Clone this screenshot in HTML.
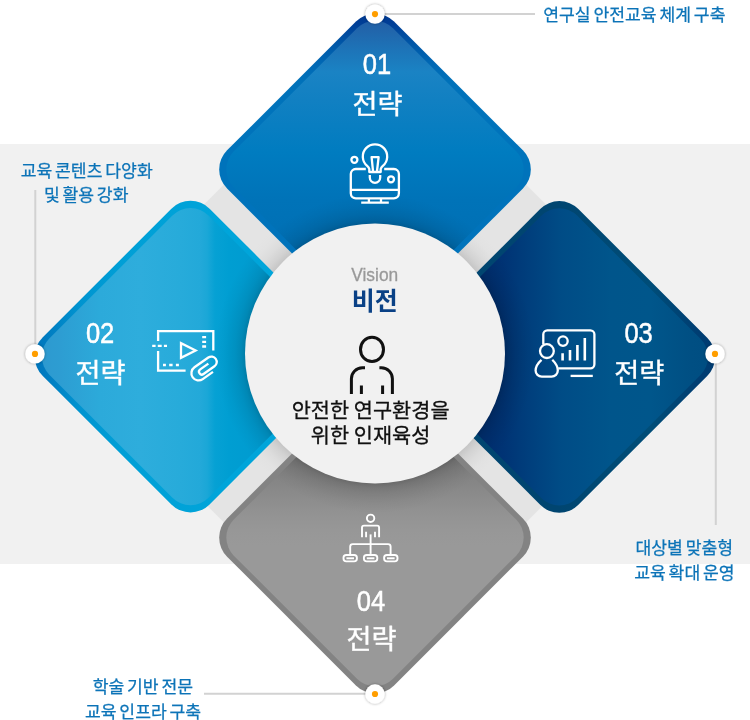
<!DOCTYPE html>
<html lang="ko">
<head>
<meta charset="utf-8">
<title>비전 및 전략</title>
<style>
html,body{margin:0;padding:0;background:#fff;}
body{width:750px;height:720px;overflow:hidden;font-family:'Liberation Sans','Noto Sans CJK KR',sans-serif;}
svg{display:block;}
</style>
</head>
<body>
<svg width="750" height="720" viewBox="0 0 750 720" style="will-change:transform">
<defs>
<linearGradient id="gTb" gradientUnits="userSpaceOnUse" x1="0" y1="10" x2="0" y2="240"><stop offset="0.0000" stop-color="#003790"/><stop offset="0.0565" stop-color="#003e96"/><stop offset="0.1522" stop-color="#0058a8"/><stop offset="0.2391" stop-color="#0069b5"/><stop offset="0.3087" stop-color="#0071b9"/><stop offset="0.4348" stop-color="#0073bb"/><stop offset="1.0000" stop-color="#0073bb"/></linearGradient>
<linearGradient id="gTf" gradientUnits="userSpaceOnUse" x1="0" y1="20" x2="0" y2="240"><stop offset="0.0000" stop-color="#225fa7"/><stop offset="0.0455" stop-color="#2165ab"/><stop offset="0.1364" stop-color="#1d74b8"/><stop offset="0.2364" stop-color="#1a83c4"/><stop offset="0.3636" stop-color="#1180c2"/><stop offset="0.6000" stop-color="#007cc0"/><stop offset="0.8182" stop-color="#0073b8"/><stop offset="1.0000" stop-color="#0070b5"/></linearGradient>
<linearGradient id="gLb" gradientUnits="userSpaceOnUse" x1="20" y1="0" x2="260" y2="0"><stop offset="0.0000" stop-color="#006fb9"/><stop offset="0.1042" stop-color="#007bc0"/><stop offset="0.2500" stop-color="#0094d0"/><stop offset="0.4167" stop-color="#009fd6"/><stop offset="0.8750" stop-color="#00a5da"/><stop offset="1.0000" stop-color="#00a5da"/></linearGradient>
<linearGradient id="gLf" gradientUnits="userSpaceOnUse" x1="30" y1="0" x2="260" y2="0"><stop offset="0.0000" stop-color="#2d97ce"/><stop offset="0.1304" stop-color="#2d9dd2"/><stop offset="0.3043" stop-color="#2caada"/><stop offset="0.4783" stop-color="#2eaddc"/><stop offset="0.6522" stop-color="#27abda"/><stop offset="0.7391" stop-color="#23a9d9"/><stop offset="0.7696" stop-color="#1ba7d7"/><stop offset="0.8043" stop-color="#06a1d4"/><stop offset="0.8652" stop-color="#009ed2"/><stop offset="1.0000" stop-color="#009bd0"/></linearGradient>
<linearGradient id="gRb" gradientUnits="userSpaceOnUse" x1="490" y1="0" x2="730" y2="0"><stop offset="0.0000" stop-color="#004570"/><stop offset="0.2833" stop-color="#004570"/><stop offset="0.6667" stop-color="#004d78"/><stop offset="0.8750" stop-color="#003d72"/><stop offset="1.0000" stop-color="#003a70"/></linearGradient>
<linearGradient id="gRf" gradientUnits="userSpaceOnUse" x1="490" y1="0" x2="725" y2="0"><stop offset="0.0000" stop-color="#003072"/><stop offset="0.0638" stop-color="#003475"/><stop offset="0.1277" stop-color="#003b7a"/><stop offset="0.3021" stop-color="#004c86"/><stop offset="0.5149" stop-color="#00558b"/><stop offset="0.6809" stop-color="#00568b"/><stop offset="0.8553" stop-color="#004f83"/><stop offset="1.0000" stop-color="#004c80"/></linearGradient>
<radialGradient id="shB" gradientUnits="userSpaceOnUse" cx="375.0" cy="353.6" r="160"><stop offset="0.0000" stop-color="#000" stop-opacity="0"/><stop offset="0.8125" stop-color="#000" stop-opacity="0.2"/><stop offset="0.8375" stop-color="#000" stop-opacity="0.13"/><stop offset="0.8750" stop-color="#000" stop-opacity="0.08"/><stop offset="0.9375" stop-color="#000" stop-opacity="0.03"/><stop offset="1.0000" stop-color="#000" stop-opacity="0"/></radialGradient>
<linearGradient id="gBf" gradientUnits="userSpaceOnUse" x1="0" y1="460" x2="0" y2="550"><stop offset="0.0000" stop-color="#7d7d7d"/><stop offset="0.1111" stop-color="#818181"/><stop offset="0.2222" stop-color="#858585"/><stop offset="0.3333" stop-color="#898989"/><stop offset="0.4444" stop-color="#8d8d8d"/><stop offset="0.6111" stop-color="#939393"/><stop offset="0.7778" stop-color="#979797"/><stop offset="0.9444" stop-color="#999999"/><stop offset="1.0000" stop-color="#999999"/></linearGradient>
<radialGradient id="gX" gradientUnits="userSpaceOnUse" cx="375.0" cy="353.6" r="160"><stop offset="0.8125" stop-color="#c6c6c6"/><stop offset="0.85" stop-color="#d2d2d2"/><stop offset="0.9" stop-color="#dcdcdc"/><stop offset="0.95" stop-color="#e2e2e2"/><stop offset="1" stop-color="#e4e4e4"/></radialGradient>
<filter id="ds" x="-50%" y="-50%" width="200%" height="200%"><feGaussianBlur in="SourceAlpha" stdDeviation="1.7"/><feOffset dx="0" dy="0.3"/><feComponentTransfer><feFuncA type="linear" slope="0.38"/></feComponentTransfer><feMerge><feMergeNode/><feMergeNode in="SourceGraphic"/></feMerge></filter>
<clipPath id="cpB"><path d="M356.97 28.21 A25.50 25.50 0 0 1 393.03 28.21 L516.19 151.37 A25.50 25.50 0 0 1 516.19 187.43 L393.03 310.59 A25.50 25.50 0 0 1 356.97 310.59 L233.81 187.43 A25.50 25.50 0 0 1 233.81 151.37 Z"/><path d="M172.47 215.41 A25.50 25.50 0 0 1 208.53 215.41 L331.69 338.57 A25.50 25.50 0 0 1 331.69 374.63 L208.53 497.79 A25.50 25.50 0 0 1 172.47 497.79 L49.31 374.63 A25.50 25.50 0 0 1 49.31 338.57 Z"/><path d="M541.27 215.71 A25.50 25.50 0 0 1 577.33 215.71 L700.49 338.87 A25.50 25.50 0 0 1 700.49 374.93 L577.33 498.09 A25.50 25.50 0 0 1 541.27 498.09 L418.11 374.93 A25.50 25.50 0 0 1 418.11 338.87 Z"/><path d="M356.97 396.41 A25.50 25.50 0 0 1 393.03 396.41 L516.19 519.57 A25.50 25.50 0 0 1 516.19 555.63 L393.03 678.79 A25.50 25.50 0 0 1 356.97 678.79 L233.81 555.63 A25.50 25.50 0 0 1 233.81 519.57 Z"/></clipPath>
</defs>
<rect width="750" height="720" fill="#ffffff"/>
<rect x="0" y="144" width="750" height="420" fill="#f1f1f1"/>
<path d="M375 33.5 L695 353.5 L375 673.5 L55 353.5 Z" fill="url(#gX)"/>
<g stroke="#d2d2d2" stroke-width="2" fill="none">
<line x1="375" y1="14" x2="535" y2="14"/>
<line x1="35.3" y1="190" x2="35.3" y2="354"/>
<line x1="715.8" y1="354" x2="715.8" y2="525"/>
<line x1="204" y1="693.8" x2="375" y2="693.8"/>
</g>
<path d="M355.91 21.49 A27.00 27.00 0 0 1 394.09 21.49 L522.91 150.31 A27.00 27.00 0 0 1 522.91 188.49 L394.09 317.31 A27.00 27.00 0 0 1 355.91 317.31 L227.09 188.49 A27.00 27.00 0 0 1 227.09 150.31 Z" fill="url(#gTb)"/>
<path d="M356.97 28.21 A25.50 25.50 0 0 1 393.03 28.21 L516.19 151.37 A25.50 25.50 0 0 1 516.19 187.43 L393.03 310.59 A25.50 25.50 0 0 1 356.97 310.59 L233.81 187.43 A25.50 25.50 0 0 1 233.81 151.37 Z" fill="url(#gTf)"/>
<path d="M171.41 208.69 A27.00 27.00 0 0 1 209.59 208.69 L338.41 337.51 A27.00 27.00 0 0 1 338.41 375.69 L209.59 504.51 A27.00 27.00 0 0 1 171.41 504.51 L42.59 375.69 A27.00 27.00 0 0 1 42.59 337.51 Z" fill="url(#gLb)"/>
<path d="M172.47 215.41 A25.50 25.50 0 0 1 208.53 215.41 L331.69 338.57 A25.50 25.50 0 0 1 331.69 374.63 L208.53 497.79 A25.50 25.50 0 0 1 172.47 497.79 L49.31 374.63 A25.50 25.50 0 0 1 49.31 338.57 Z" fill="url(#gLf)"/>
<path d="M540.21 208.99 A27.00 27.00 0 0 1 578.39 208.99 L707.21 337.81 A27.00 27.00 0 0 1 707.21 375.99 L578.39 504.81 A27.00 27.00 0 0 1 540.21 504.81 L411.39 375.99 A27.00 27.00 0 0 1 411.39 337.81 Z" fill="url(#gRb)"/>
<path d="M541.27 215.71 A25.50 25.50 0 0 1 577.33 215.71 L700.49 338.87 A25.50 25.50 0 0 1 700.49 374.93 L577.33 498.09 A25.50 25.50 0 0 1 541.27 498.09 L418.11 374.93 A25.50 25.50 0 0 1 418.11 338.87 Z" fill="url(#gRf)"/>
<path d="M355.91 389.69 A27.00 27.00 0 0 1 394.09 389.69 L522.91 518.51 A27.00 27.00 0 0 1 522.91 556.69 L394.09 685.51 A27.00 27.00 0 0 1 355.91 685.51 L227.09 556.69 A27.00 27.00 0 0 1 227.09 518.51 Z" fill="#838383"/>
<path d="M356.97 396.41 A25.50 25.50 0 0 1 393.03 396.41 L516.19 519.57 A25.50 25.50 0 0 1 516.19 555.63 L393.03 678.79 A25.50 25.50 0 0 1 356.97 678.79 L233.81 555.63 A25.50 25.50 0 0 1 233.81 519.57 Z" fill="url(#gBf)"/>
<circle cx="375.0" cy="353.6" r="160" fill="url(#shB)" clip-path="url(#cpB)"/>
<circle cx="375.0" cy="353.6" r="130" fill="#f1f1f1"/>
<circle cx="375.0" cy="14.1" r="9.7" fill="#fff" filter="url(#ds)"/>
<circle cx="375.0" cy="14.1" r="3.1" fill="#ff9e00"/>
<circle cx="35.0" cy="353.9" r="9.7" fill="#fff" filter="url(#ds)"/>
<circle cx="35.0" cy="353.9" r="3.1" fill="#ff9e00"/>
<circle cx="715.0" cy="353.9" r="9.7" fill="#fff" filter="url(#ds)"/>
<circle cx="715.0" cy="353.9" r="3.1" fill="#ff9e00"/>
<circle cx="375.0" cy="694.0" r="9.7" fill="#fff" filter="url(#ds)"/>
<circle cx="375.0" cy="694.0" r="3.1" fill="#ff9e00"/>
<g fill="none" stroke="#fff" stroke-width="2.3" stroke-linejoin="round">
<path d="M365.8 169 H355.8 a5 5 0 0 0 -5 5 V193.3 a5 5 0 0 0 5 5 H393.9 a5 5 0 0 0 5 -5 V174 a5 5 0 0 0 -5 -5 H384.2"/>
<path d="M350.8 189.9 H398.9"/>
<path d="M368.9 198.3 V202.7 M381 198.3 V202.7 M361.2 202.7 H388.8"/>
<path d="M369.3 172 V169 Q368.8 167.3 367.16 165.85 A12.2 12.2 0 1 1 382.84 165.85 Q381.2 167.3 380.7 169 V172 Z"/>
<path d="M373.1 172 L371.6 157.2 H378.6 L376.9 172"/>
<path d="M369.8 175 V177.6 a5.2 5.2 0 0 0 10.4 0 V175"/>
<circle cx="354.4" cy="159.8" r="3"/>
<circle cx="391" cy="179.3" r="3"/>
<path d="M158.1 341.1 V331.1 H213.3 V350.6" stroke-linejoin="miter"/>
<path d="M158.1 351.1 V370.6 H185.6" stroke-linejoin="miter"/>
<path d="M152.2 345.9 H155.6 M157.8 345.9 H161.7 M163.9 345.9 H167"/>
<path d="M163 365 H165.9 M169.2 365 H172.6 M175.9 365 H178.9"/>
<path d="M202.2 337.2 H206.1 M202.2 341.9 H206.1 M202.2 346.5 H206.1"/>
<path d="M181 343.2 V357.8 L195.6 350.5 Z" stroke-linejoin="miter"/>
<g transform="translate(188 354) rotate(-35.2)"><path d="M10.1 29 L-2.4 29 A7.2 7.2 0 0 1 -2.4 14.6 L14.55 14.6 A5.35 5.35 0 0 1 14.55 25.3 L1.15 25.3 A2.85 2.85 0 0 1 1.15 19.6 L11.1 19.6"/></g>
<path d="M543.3 344.4 V334.3 a4 4 0 0 1 4 -4 H590.4 a4 4 0 0 1 4 4 V364.3 a4 4 0 0 1 -4 4 H558.3"/>
<circle cx="563" cy="341.1" r="4.7"/>
<path d="M570.6 375.9 H592.8"/>
<circle cx="546.9" cy="351.1" r="6.9"/>
<path d="M541.5 359.8 C538 363 535.6 366.5 535.6 370.5 a6.2 6.2 0 0 0 6.2 6.2 H551.6 a6.2 6.2 0 0 0 6.2 -6.2 C557.8 366.5 555.5 363 552.3 359.8"/>
</g>
<g fill="none" stroke="#fff" stroke-width="2.6">
<path d="M562.6 353.3 V360.6 M570 350 V360.6 M577.4 345 V360.6 M584.8 338.1 V360.6"/>
</g>
<g fill="none" stroke="#fff" stroke-width="1.9" stroke-linejoin="round">
<circle cx="370.6" cy="518.3" r="3.7"/>
<path d="M362 537.2 V527.6 a2 2 0 0 1 2 -2 H377.1 a2 2 0 0 1 2 2 V537.2"/>
<path d="M366.1 531.7 V537.2 M375 531.7 V537.2"/>
<path d="M370.6 534.4 V553.9"/>
<path d="M350.2 553.9 V546.6 a2.5 2.5 0 0 1 2.5 -2.5 H388.1 a2.5 2.5 0 0 1 2.5 2.5 V553.9"/>
<rect x="343.5" y="555" width="13.4" height="6.4" rx="2.8"/>
<path d="M346.4 558.3 H354.0"/>
<rect x="363.9" y="555" width="13.4" height="6.4" rx="2.8"/>
<path d="M366.8 558.3 H374.4"/>
<rect x="384.1" y="555" width="13.4" height="6.4" rx="2.8"/>
<path d="M387.0 558.3 H394.6"/>
</g>
<g fill="none" stroke="#111" stroke-width="3">
<ellipse cx="372" cy="349.4" rx="11.5" ry="12.2"/>
<path d="M365 367.8 H362.4 a11 11 0 0 0 -11 11 V393.9"/>
<path d="M379.4 367.8 H381.4 a11 11 0 0 1 11 11 V393.9"/>
<path d="M361.4 385.6 V393.9 M382.6 385.6 V393.9"/>
</g>
<text transform="translate(377.05 73.60) scale(0.88 1)" font-family="'Liberation Sans','Noto Sans CJK KR',sans-serif" font-size="29" font-weight="400" fill="#fff" text-anchor="middle" stroke="#fff" stroke-width="0.5">01</text>
<text x="377.40" y="113.80" font-family="'Liberation Sans','Noto Sans CJK KR',sans-serif" font-size="27.2" font-weight="400" fill="#fff" text-anchor="middle" stroke="#fff" stroke-width="0.4">전략</text>
<text transform="translate(100.10 343.40) scale(0.88 1)" font-family="'Liberation Sans','Noto Sans CJK KR',sans-serif" font-size="29" font-weight="400" fill="#fff" text-anchor="middle" stroke="#fff" stroke-width="0.5">02</text>
<text x="100.40" y="382.50" font-family="'Liberation Sans','Noto Sans CJK KR',sans-serif" font-size="27.2" font-weight="400" fill="#fff" text-anchor="middle" stroke="#fff" stroke-width="0.4">전략</text>
<text transform="translate(638.60 343.40) scale(0.88 1)" font-family="'Liberation Sans','Noto Sans CJK KR',sans-serif" font-size="29" font-weight="400" fill="#fff" text-anchor="middle" stroke="#fff" stroke-width="0.5">03</text>
<text x="639.20" y="382.50" font-family="'Liberation Sans','Noto Sans CJK KR',sans-serif" font-size="27.2" font-weight="400" fill="#fff" text-anchor="middle" stroke="#fff" stroke-width="0.4">전략</text>
<text transform="translate(370.95 610.50) scale(0.88 1)" font-family="'Liberation Sans','Noto Sans CJK KR',sans-serif" font-size="29" font-weight="400" fill="#fff" text-anchor="middle" stroke="#fff" stroke-width="0.5">04</text>
<text x="371.50" y="649.40" font-family="'Liberation Sans','Noto Sans CJK KR',sans-serif" font-size="27.2" font-weight="400" fill="#fff" text-anchor="middle" stroke="#fff" stroke-width="0.4">전략</text>
<text transform="translate(374.75 280.95) scale(0.925 1)" font-family="'Liberation Sans','Noto Sans CJK KR',sans-serif" font-size="18.8" font-weight="400" fill="#999" text-anchor="middle" stroke="#999" stroke-width="0.3">Vision</text>
<text x="374.65" y="310.40" font-family="'Liberation Sans','Noto Sans CJK KR',sans-serif" font-size="25" font-weight="700" fill="#0a4186" text-anchor="middle" >비전</text>
<text x="370.60" y="417.50" font-family="'Liberation Sans','Noto Sans CJK KR',sans-serif" font-size="20.8" font-weight="400" fill="#111" text-anchor="middle" word-spacing="-1" stroke="#111" stroke-width="0.3">안전한 연구환경을</text>
<text x="370.60" y="442.70" font-family="'Liberation Sans','Noto Sans CJK KR',sans-serif" font-size="20.8" font-weight="400" fill="#111" text-anchor="middle" word-spacing="-1" stroke="#111" stroke-width="0.3">위한 인재육성</text>
<text x="634.35" y="21.20" font-family="'Liberation Sans','Noto Sans CJK KR',sans-serif" font-size="17.2" font-weight="400" fill="#0c74b8" text-anchor="middle" word-spacing="-2" stroke="#0c74b8" stroke-width="0.25">연구실 안전교육 체계 구축</text>
<text x="86.70" y="177.40" font-family="'Liberation Sans','Noto Sans CJK KR',sans-serif" font-size="17.2" font-weight="400" fill="#0c74b8" text-anchor="middle" word-spacing="-2" stroke="#0c74b8" stroke-width="0.25">교육 콘텐츠 다양화</text>
<text x="86.20" y="201.40" font-family="'Liberation Sans','Noto Sans CJK KR',sans-serif" font-size="17.2" font-weight="400" fill="#0c74b8" text-anchor="middle" word-spacing="-2" stroke="#0c74b8" stroke-width="0.25">및 활용 강화</text>
<text x="684.25" y="554.35" font-family="'Liberation Sans','Noto Sans CJK KR',sans-serif" font-size="17.2" font-weight="400" fill="#0c74b8" text-anchor="middle" word-spacing="-2" stroke="#0c74b8" stroke-width="0.25">대상별 맞춤형</text>
<text x="684.45" y="579.00" font-family="'Liberation Sans','Noto Sans CJK KR',sans-serif" font-size="17.2" font-weight="400" fill="#0c74b8" text-anchor="middle" word-spacing="-2" stroke="#0c74b8" stroke-width="0.25">교육 확대 운영</text>
<text x="142.85" y="693.45" font-family="'Liberation Sans','Noto Sans CJK KR',sans-serif" font-size="17.2" font-weight="400" fill="#0c74b8" text-anchor="middle" word-spacing="-2" stroke="#0c74b8" stroke-width="0.25">학술 기반 전문</text>
<text x="143.05" y="717.90" font-family="'Liberation Sans','Noto Sans CJK KR',sans-serif" font-size="17.2" font-weight="400" fill="#0c74b8" text-anchor="middle" word-spacing="-2" stroke="#0c74b8" stroke-width="0.25">교육 인프라 구축</text>
</svg>
</body>
</html>
